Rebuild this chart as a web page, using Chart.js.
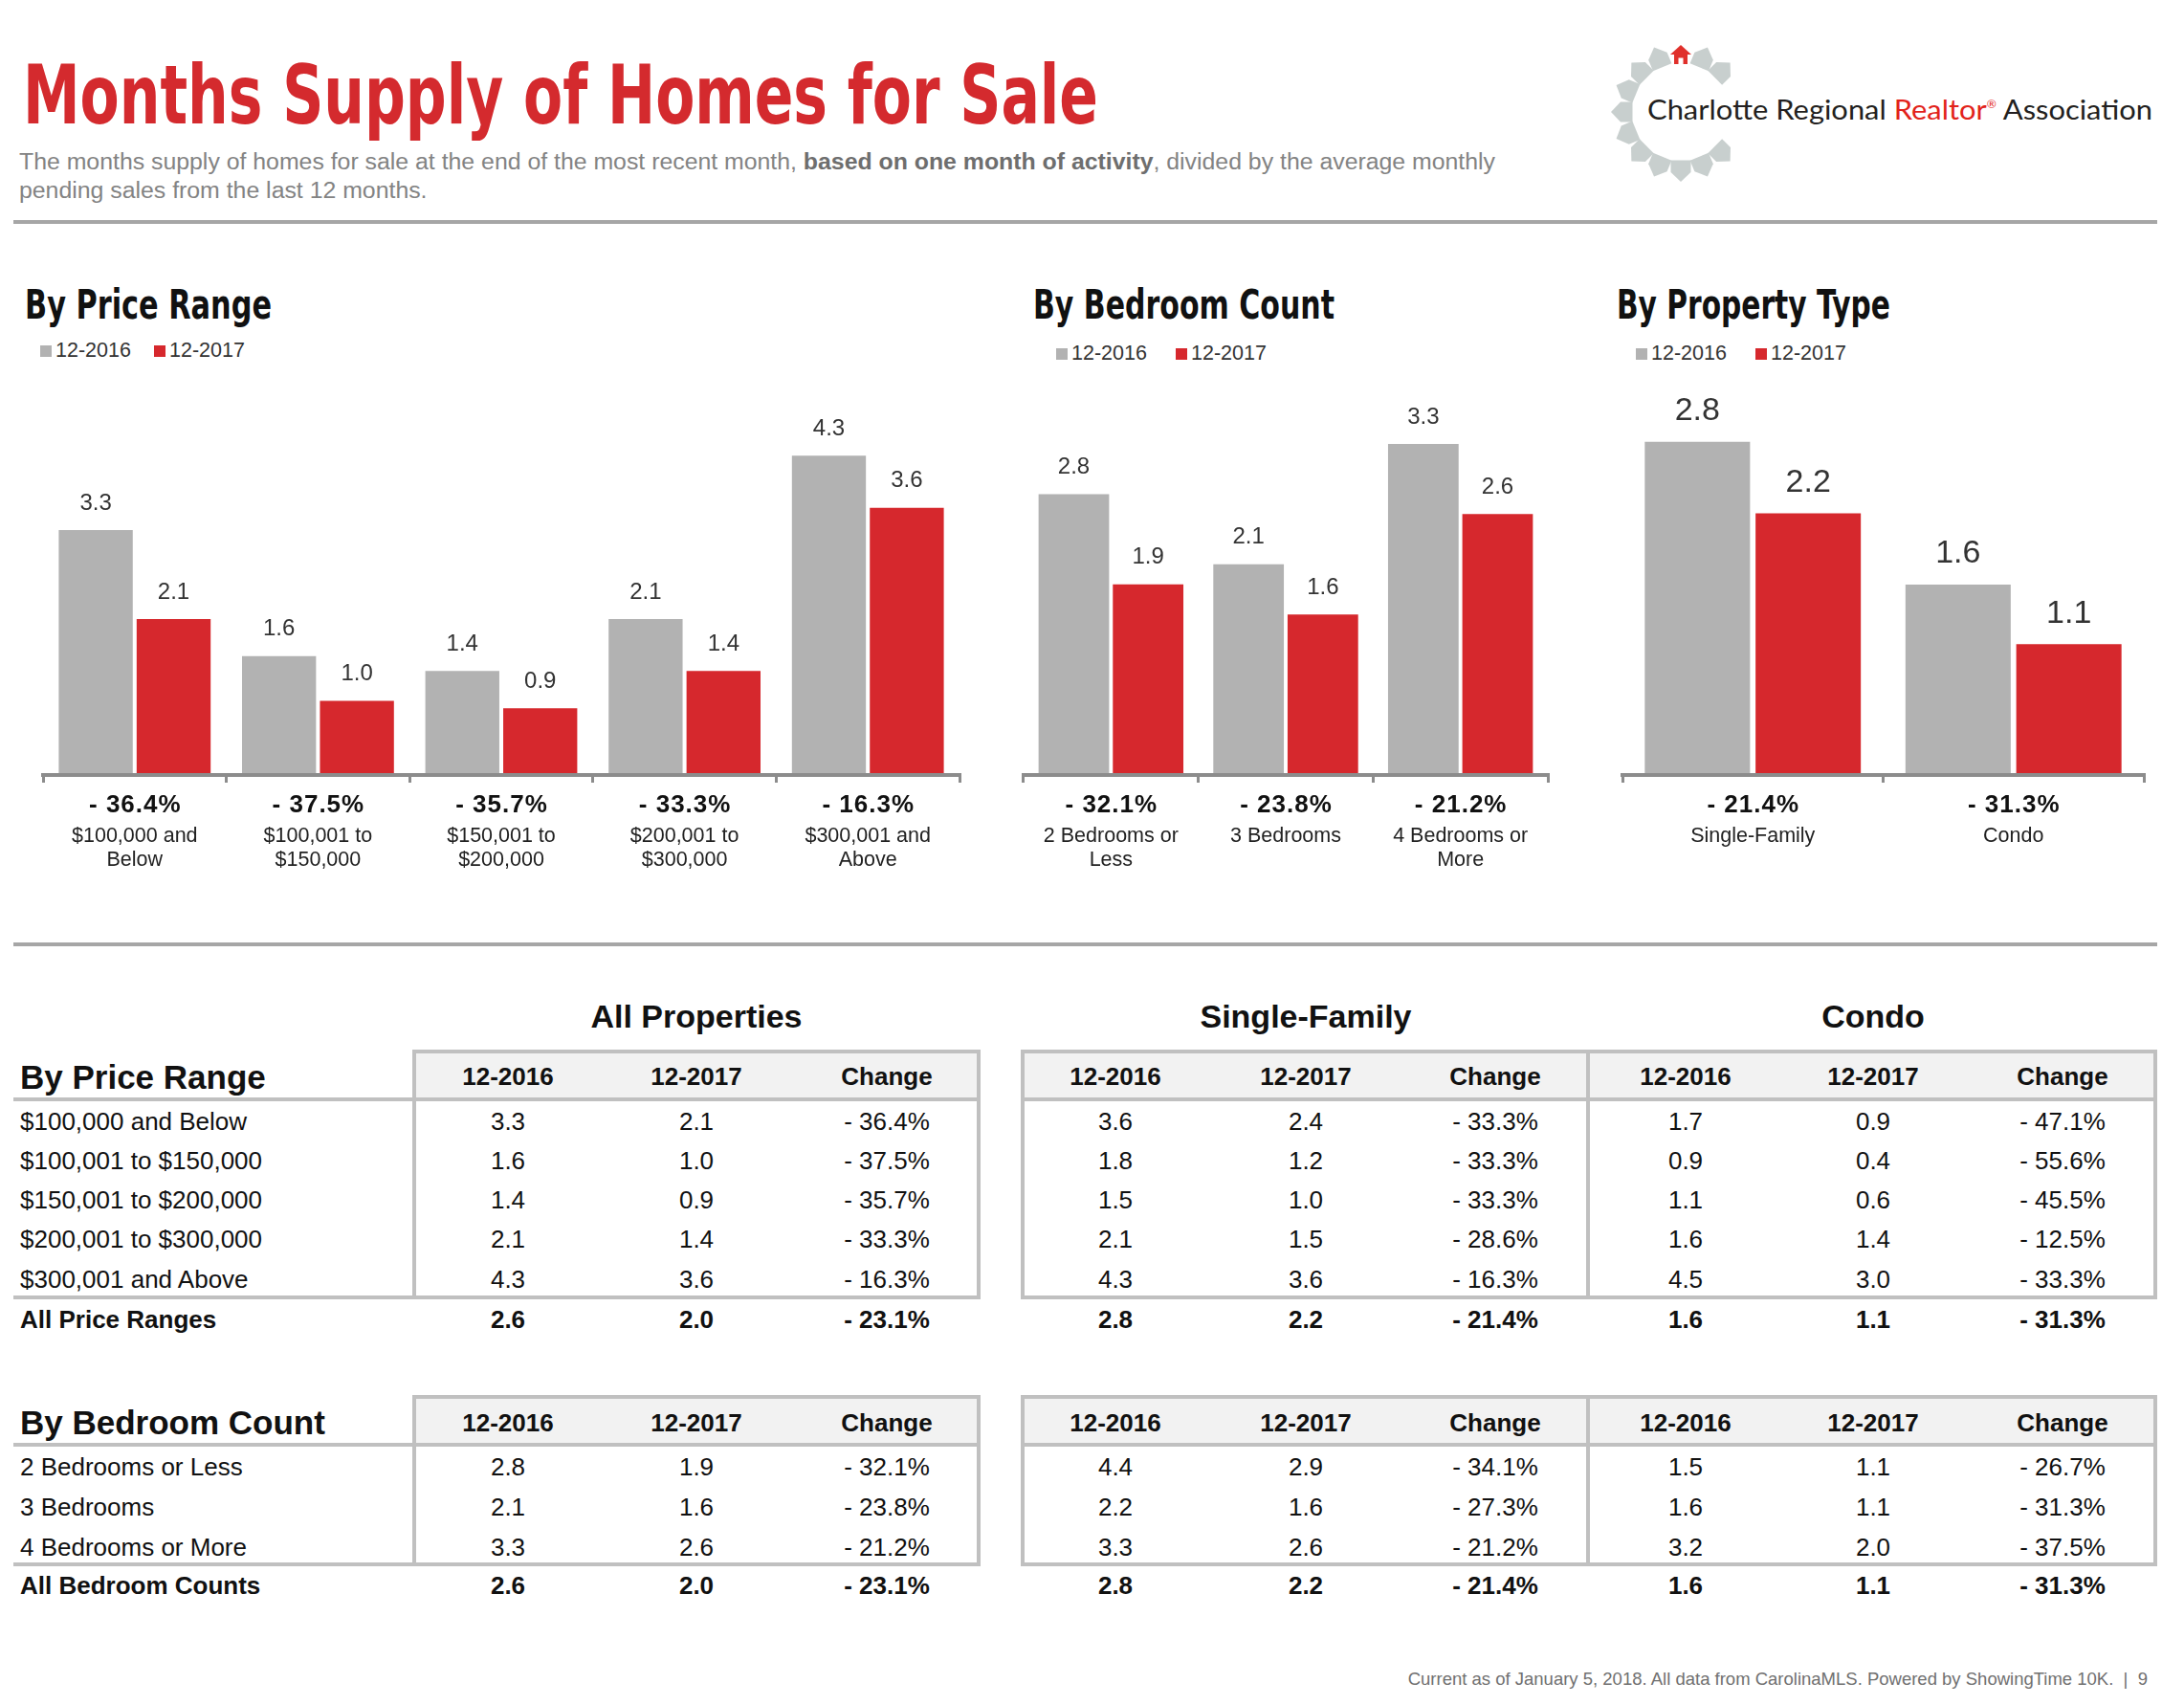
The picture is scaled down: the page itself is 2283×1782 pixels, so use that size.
<!DOCTYPE html>
<html><head><meta charset="utf-8">
<script src="https://cdn.jsdelivr.net/npm/chart.js@4.4.1/dist/chart.umd.min.js"></script>
<style>
html,body{margin:0;padding:0;background:#fff;}
body{width:2283px;height:1782px;position:relative;overflow:hidden;font-family:"Liberation Sans",Arial,Helvetica,sans-serif;color:#111;}
.t{position:absolute;line-height:1;white-space:nowrap;transform-origin:0 50%;}
.r{position:absolute;}
canvas{position:absolute;}
.cond{font-family:"Liberation Sans Narrow","Arial Narrow","DejaVu Sans Condensed",sans-serif;font-weight:bold;}
</style></head><body>
<div class="t cond" id="title" style="left:24px;top:55.5px;font-size:86px;color:#d42a2e;">Months Supply of Homes for Sale</div>
<div class="t" id="sub" style="left:20px;top:154px;font-size:23px;line-height:30px;color:#838383;transform-origin:0 0;">The months supply of homes for sale at the end of the most recent month, <b style="color:#6e6e6e">based on one month of activity</b>, divided by the average monthly<br>pending sales from the last 12 months.</div>
<div class="r" style="left:14px;top:230px;width:2241px;height:4px;background:#a6a6a6"></div>
<div class="r" style="left:14px;top:985px;width:2241px;height:4px;background:#a6a6a6"></div>

<svg class="r" style="left:1670px;top:20px" width="220" height="200" id="logo"></svg>
<div class="t" id="logotext" style="left:1722px;top:100px;font-size:28px;font-family:Lato,'Open Sans',sans-serif;color:#231f20;">Charlotte Regional <span style="color:#e2231a">Realtor<sup style="font-size:11px;vertical-align:12px">®</sup></span> Association</div>

<canvas id="c1" width="978" height="530" style="left:35px;top:400px"></canvas>
<canvas id="c2" width="568" height="530" style="left:1060px;top:400px"></canvas>
<canvas id="c3" width="565" height="530" style="left:1686px;top:400px"></canvas>

<script>
// ---------- DATA ----------
const seriesLabels = ["12-2016", "12-2017"];
const chartTitles = ["By Price Range", "By Bedroom Count", "By Property Type"];

const priceCategories = [["$100,000 and", "Below"], ["$100,001 to", "$150,000"], ["$150,001 to", "$200,000"], ["$200,001 to", "$300,000"], ["$300,001 and", "Above"]];
const price2016 = [3.3, 1.6, 1.4, 2.1, 4.3];
const price2017 = [2.1, 1.0, 0.9, 1.4, 3.6];
const priceChange = ["- 36.4%", "- 37.5%", "- 35.7%", "- 33.3%", "- 16.3%"];

const bedCategories = [["2 Bedrooms or", "Less"], ["3 Bedrooms"], ["4 Bedrooms or", "More"]];
const bed2016 = [2.8, 2.1, 3.3];
const bed2017 = [1.9, 1.6, 2.6];
const bedChange = ["- 32.1%", "- 23.8%", "- 21.2%"];

const typeCategories = [["Single-Family"], ["Condo"]];
const type2016 = [2.8, 1.6];
const type2017 = [2.2, 1.1];
const typeChange = ["- 21.4%", "- 31.3%"];

// tables
const groupTitles = ["All Properties", "Single-Family", "Condo"];
const colHeaders = ["12-2016", "12-2017", "Change"];
const priceRowLabels = ["$100,000 and Below", "$100,001 to $150,000", "$150,001 to $200,000", "$200,001 to $300,000", "$300,001 and Above"];
const sfPrice2016 = [3.6, 1.8, 1.5, 2.1, 4.3];
const sfPrice2017 = [2.4, 1.2, 1.0, 1.5, 3.6];
const sfPriceChange = ["- 33.3%", "- 33.3%", "- 33.3%", "- 28.6%", "- 16.3%"];
const condoPrice2016 = [1.7, 0.9, 1.1, 1.6, 4.5];
const condoPrice2017 = [0.9, 0.4, 0.6, 1.4, 3.0];
const condoPriceChange = ["- 47.1%", "- 55.6%", "- 45.5%", "- 12.5%", "- 33.3%"];
const priceTotalLabel = "All Price Ranges";
const allTotal = [2.6, 2.0, "- 23.1%"];
const sfTotal = [2.8, 2.2, "- 21.4%"];
const condoTotal = [1.6, 1.1, "- 31.3%"];

const bedRowLabels = ["2 Bedrooms or Less", "3 Bedrooms", "4 Bedrooms or More"];
const sfBed2016 = [4.4, 2.2, 3.3];
const sfBed2017 = [2.9, 1.6, 2.6];
const sfBedChange = ["- 34.1%", "- 27.3%", "- 21.2%"];
const condoBed2016 = [1.5, 1.6, 3.2];
const condoBed2017 = [1.1, 1.1, 2.0];
const condoBedChange = ["- 26.7%", "- 31.3%", "- 37.5%"];
const bedTotalLabel = "All Bedroom Counts";

const footerText = "Current as of January 5, 2018. All data from CarolinaMLS. Powered by ShowingTime 10K.  |  9";

// ---------- STYLE ----------
const GREY = '#b2b2b2', RED = '#d6282d', AXIS = '#8c8c8c', LINE = '#c0c0c0';
const FONT = '"Liberation Sans", Arial, sans-serif';

function put(txt, x, cy, o = {}) {
  const fs = o.size || 26;
  const d = document.createElement('div');
  d.className = 't' + (o.cls ? ' ' + o.cls : '');
  d.textContent = txt;
  d.style.fontSize = fs + 'px';
  d.style.top = (cy - 0.4885 * fs) + 'px';
  if (o.align === 'center') { d.style.left = (x - 400) + 'px'; d.style.width = '800px'; d.style.textAlign = 'center'; }
  else if (o.align === 'right') { d.style.right = (2283 - x) + 'px'; d.style.textAlign = 'right'; }
  else d.style.left = x + 'px';
  if (o.bold) d.style.fontWeight = 'bold';
  if (o.color) d.style.color = o.color;
  document.body.appendChild(d);
  return d;
}
function rect(x, y, w, h, c) {
  const d = document.createElement('div');
  d.className = 'r';
  Object.assign(d.style, { left: x + 'px', top: y + 'px', width: w + 'px', height: h + 'px', background: c });
  document.body.appendChild(d);
  return d;
}
function fitWidth(el, target) {
  const w = el.getBoundingClientRect().width;
  if (w > 0) el.style.transform = 'scaleX(' + (target / w) + ')';
}

fitWidth(document.getElementById('title'), 1124);
fitWidth(document.getElementById('logotext'), 528);
fitWidth(document.getElementById('sub'), 1543);

// headings & legends
const headX = [26, 1080, 1690], headW = [258, 315, 286];
chartTitles.forEach((t, i) => {
  const d = put(t, headX[i], 318.5, { size: 43, cls: 'cond', color: '#111' });
  fitWidth(d, headW[i]);
});
function legend(xs, cy) {
  seriesLabels.forEach((s, i) => {
    rect(xs[i], cy - 6, 12, 12, i === 0 ? GREY : RED);
    put(s, xs[i] + 16, cy, { size: 21.5, color: '#333' });
  });
}
legend([42, 161], 367);
legend([1104, 1229], 370);
legend([1710, 1835], 370);

// logo
(function () {
  const svg = document.getElementById('logo');
  const cx = 87, cy = 97, r = 61;
  const angles = [-67.5, -45, -112.5, -135, -157.5, 180, 157.5, 135, 112.5, 90, 67.5, 45];
  let html = '';
  angles.forEach(a => {
    html += `<polygon points="-10.5,10.5 10.5,10.5 10.5,-2 0,-12 -10.5,-2" fill="#c8cfce" transform="translate(${cx},${cy}) rotate(${a + 90}) translate(0,${-r})"/>`;
  });
  html += `<g transform="translate(${cx},${cy - r + 1})"><polygon points="-11,0 0,-10 11,0" fill="#e0302b"/><rect x="-7" y="-1" width="14" height="11" fill="#e0302b"/><rect x="-2.5" y="3.5" width="5" height="6.5" fill="#fff"/></g>`;
  svg.innerHTML = html;
})();

// ---------- CHARTS ----------
Chart.defaults.font.family = FONT;
const barLabels = {
  id: 'barLabels',
  afterDatasetsDraw(chart, args, o) {
    const ctx = chart.ctx;
    ctx.save();
    ctx.textAlign = 'center'; ctx.textBaseline = 'middle';
    ctx.font = o.valueSize + 'px ' + FONT;
    ctx.fillStyle = '#333';
    chart.data.datasets.forEach((ds, di) => {
      chart.getDatasetMeta(di).data.forEach((bar, i) => {
        ctx.fillText(ds.data[i].toFixed(1), bar.x, bar.y - o.valueOffset);
      });
    });
    const xs = chart.scales.x;
    ctx.font = 'bold ' + o.changeSize + 'px ' + FONT;
    ctx.fillStyle = '#111';
    if ('letterSpacing' in ctx) ctx.letterSpacing = '1px';
    o.change.forEach((t, i) => ctx.fillText(t, xs.getPixelForValue(i) + 0.5, chart.chartArea.bottom + o.changeOffset));
    ctx.restore();
  }
};
function barChart(id, cats, a, b, change, cfg) {
  return new Chart(document.getElementById(id).getContext('2d'), {
    type: 'bar',
    data: {
      labels: cats, datasets: [
        { label: seriesLabels[0], data: a, backgroundColor: GREY, categoryPercentage: 0.85, barPercentage: 0.95 },
        { label: seriesLabels[1], data: b, backgroundColor: RED, categoryPercentage: 0.85, barPercentage: 0.95 }]
    },
    options: {
      responsive: false, animation: false,
      layout: { padding: { left: 10, right: 10, top: 22, bottom: 0 } },
      plugins: {
        legend: { display: false }, tooltip: { enabled: false },
        barLabels: { change, valueSize: cfg.valueSize, valueOffset: cfg.valueOffset, changeSize: 26, changeOffset: 32 }
      },
      scales: {
        y: { display: false, min: 0, max: cfg.max },
        x: {
          offset: true,
          grid: { display: true, drawOnChartArea: false, drawTicks: true, tickLength: 8, color: AXIS, lineWidth: 3, offset: true },
          border: { display: true, color: AXIS, width: 4, z: 1 },
          ticks: { color: '#222', font: { family: FONT, size: 21.5, lineHeight: 1.15 }, padding: 43.5, maxRotation: 0, minRotation: 0, autoSkip: false },
          afterFit(s) { s.height = 120; s.paddingLeft = 0; s.paddingRight = 0; }
        }
      }
    },
    plugins: [barLabels]
  });
}
barChart('c1', priceCategories, price2016, price2017, priceChange, { max: 5.0, valueSize: 24, valueOffset: 28 });
barChart('c2', bedCategories, bed2016, bed2017, bedChange, { max: 3.7, valueSize: 24, valueOffset: 28 });
barChart('c3', typeCategories, type2016, type2017, typeChange, { max: 3.12, valueSize: 34, valueOffset: 32 });

// ---------- TABLES ----------
const colX = [[531, 728, 927], [1166, 1365, 1563], [1762, 1958, 2156]];
groupTitles.forEach((g, i) => put(g, colX[i][1], 1062, { size: 34, bold: true, align: 'center' }));

function table(t) {
  rect(433, t.top, 590, t.hline - t.top, '#f2f2f2');
  rect(1069, t.top, 1184, t.hline - t.top, '#f2f2f2');
  rect(431, t.top, 594, 4, LINE);
  rect(1067, t.top, 1188, 4, LINE);
  rect(14, t.hline, 1011, 4, LINE);
  rect(1067, t.hline, 1188, 4, LINE);
  rect(14, t.bottom, 1011, 4, LINE);
  rect(1067, t.bottom, 1188, 4, LINE);
  [431, 1021, 1067, 1658, 2251].forEach(x => rect(x, t.top, 4, t.bottom + 4 - t.top, LINE));
  put(t.label, 21, t.headY, { size: 35, bold: true });
  colX.forEach(cols => cols.forEach((x, j) => put(colHeaders[j], x, t.headY, { size: 26, bold: true, align: 'center' })));
  t.rowLabels.forEach((lab, i) => {
    const y = t.rowY[i];
    put(lab, 21, y, { size: 26 });
    t.groups.forEach((g, gi) => {
      put(g[0][i].toFixed(1), colX[gi][0], y, { size: 26, align: 'center' });
      put(g[1][i].toFixed(1), colX[gi][1], y, { size: 26, align: 'center' });
      put(g[2][i], colX[gi][2], y, { size: 26, align: 'center' });
    });
  });
  put(t.totalLabel, 21, t.totalY, { size: 26, bold: true });
  t.totals.forEach((tt, gi) => {
    put(tt[0].toFixed(1), colX[gi][0], t.totalY, { size: 26, bold: true, align: 'center' });
    put(tt[1].toFixed(1), colX[gi][1], t.totalY, { size: 26, bold: true, align: 'center' });
    put(tt[2], colX[gi][2], t.totalY, { size: 26, bold: true, align: 'center' });
  });
}
table({
  top: 1097, hline: 1147, bottom: 1354, headY: 1125,
  label: chartTitles[0], rowLabels: priceRowLabels,
  rowY: [1171.7, 1212.5, 1253.5, 1294.5, 1336.5], totalY: 1379, totalLabel: priceTotalLabel,
  groups: [[price2016, price2017, priceChange], [sfPrice2016, sfPrice2017, sfPriceChange], [condoPrice2016, condoPrice2017, condoPriceChange]],
  totals: [allTotal, sfTotal, condoTotal]
});
table({
  top: 1458, hline: 1508, bottom: 1633, headY: 1486.5,
  label: chartTitles[1], rowLabels: bedRowLabels,
  rowY: [1533, 1575, 1616.5], totalY: 1657, totalLabel: bedTotalLabel,
  groups: [[bed2016, bed2017, bedChange], [sfBed2016, sfBed2017, sfBedChange], [condoBed2016, condoBed2017, condoBedChange]],
  totals: [allTotal, sfTotal, condoTotal]
});

const foot = put(footerText, 2245, 1755, { size: 18.5, color: '#707070', align: 'right' });
foot.style.whiteSpace = 'pre';
</script>
</body></html>
